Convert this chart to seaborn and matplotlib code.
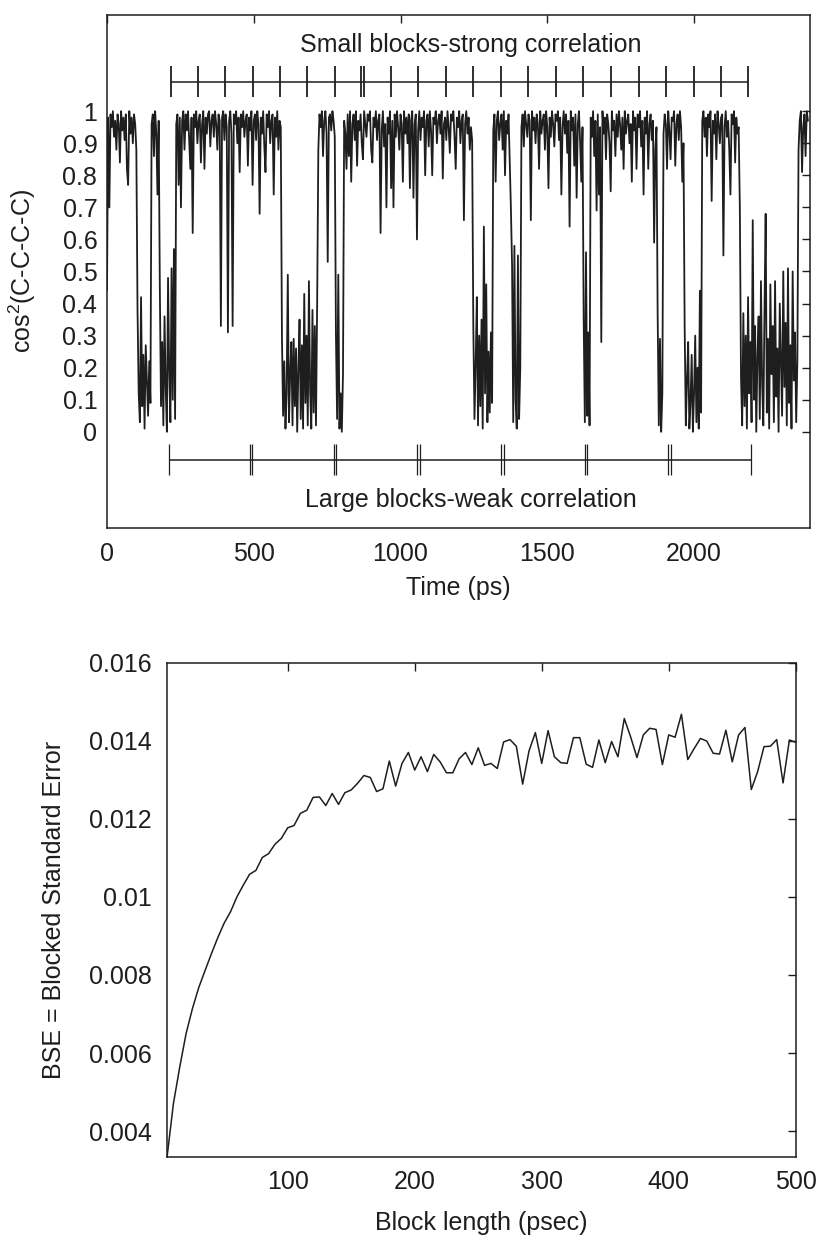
import numpy as np
import pandas as pd
import matplotlib
matplotlib.use("Agg")
import matplotlib.pyplot as plt
import seaborn as sns
from matplotlib.ticker import FuncFormatter

# ── Data: cos^2 dihedral trace, one value every TIME_STEP ps (percent) ─────────
TIME_STEP = 4
COS2_PCT = [
    # 0-100 high
    44, 98, 70, 99, 95, 100, 92, 97, 88, 99, 96, 84, 100, 94, 98, 91, 99, 82, 77, 100, 93, 98, 90, 99, 96, 88,
    # 104-148 low
    38, 12, 3, 42, 8, 24, 1, 27, 16, 5, 22, 9,
    # 152-176 high
    96, 99, 86, 100, 93, 74, 97,
    # 180-232 low
    45, 8, 28, 2, 36, 14, 0, 48, 19, 3, 51, 10, 57, 4,
    # 236-592 high
    96, 99, 77, 98, 70, 97, 100, 88, 99, 94, 100, 91, 82, 98, 62, 99, 95, 100, 90, 97,
    99, 84, 96, 100, 82, 98, 93, 99, 100, 89, 97, 99, 92, 100, 96, 88, 99, 97, 33, 98,
    100, 91, 99, 95, 31, 97, 100, 93, 33, 99, 96, 100, 90, 98, 81, 99, 95, 100, 92, 97,
    99, 83, 98, 94, 100, 77, 97, 99, 91, 100, 96, 68, 98, 93, 100, 89, 81, 99, 95, 100,
    90, 97, 99, 74, 98, 92, 100, 88, 97, 95,
    # 596-716 low
    30, 5, 22, 1, 12, 49, 3, 18, 28, 2, 29, 8, 26, 0, 20, 35, 4, 27, 1, 43, 9, 30, 2, 47, 13, 1, 38, 6, 33, 2, 40,
    # 720-776 high
    88, 99, 95, 100, 86, 97, 100, 93, 53, 98, 99, 94, 100, 97, 92,
    # 780-804 low
    30, 4, 49, 1, 12, 0, 18,
    # 808-1244 high
    97, 93, 82, 99, 86, 100, 78, 96, 99, 91, 100, 83, 97, 94, 99, 90, 85, 100, 96, 92,
    99, 97, 100, 88, 84, 98, 95, 100, 91, 97, 99, 62, 94, 100, 89, 96, 70, 98, 93, 100,
    76, 97, 70, 99, 92, 100, 95, 88, 99, 96, 78, 100, 93, 98, 90, 99, 76, 97, 100, 73,
    96, 99, 60, 94, 100, 91, 98, 95, 100, 80, 97, 99, 89, 100, 94, 80, 98, 96, 100, 90,
    97, 99, 93, 100, 79, 96, 98, 91, 100, 95, 87, 99, 97, 100, 92, 82, 98, 95, 100, 90,
    97, 99, 66, 96, 100, 93, 98, 88, 95, 91,
    # 1248-1312 low
    33, 4, 21, 42, 2, 30, 8, 35, 1, 64, 12, 46, 3, 25, 6, 31, 9,
    # 1316-1376 high
    94, 99, 78, 97, 100, 91, 96, 99, 88, 100, 80, 97, 93, 99, 85, 70,
    # 1380-1408 low
    52, 3, 58, 10, 1, 55, 4, 20,
    # 1412-1620 high
    95, 99, 89, 100, 96, 92, 99, 97, 66, 100, 94, 98, 90, 99, 96, 82, 100, 93, 97, 99,
    88, 100, 95, 76, 98, 92, 100, 96, 89, 99, 97, 100, 91, 98, 74, 95, 100, 93, 99, 87,
    97, 64, 100, 94, 98, 83, 99, 73, 96, 100, 90, 78, 95,
    # 1624-1644 low
    35, 3, 56, 5, 31, 2,
    # 1648-1872 high
    98, 92, 100, 86, 97, 69, 99, 74, 95, 28, 100, 93, 98, 85, 99, 96, 90, 75, 100, 94,
    97, 86, 99, 92, 100, 96, 88, 98, 82, 100, 93, 97, 99, 90, 96, 78, 100, 94, 98, 82,
    99, 95, 100, 89, 97, 74, 98, 93, 100, 82, 96, 99, 91, 97, 59, 88, 95,
    # 1876-1892 low
    37, 2, 29, 0, 12,
    # 1896-1964 high
    93, 99, 96, 82, 100, 94, 85, 98, 97, 100, 83, 96, 99, 91, 100, 95, 78, 90,
    # 1968-2024 low
    33, 2, 16, 28, 1, 9, 24, 0, 12, 30, 3, 20, 1, 44, 6,
    # 2028-2156 high
    97, 100, 92, 98, 86, 99, 95, 100, 72, 97, 93, 99, 85, 100, 96, 90, 98, 99, 55, 95,
    100, 92, 97, 88, 74, 99, 96, 100, 84, 98, 93, 95, 70,
    # 2160-2352 low
    17, 2, 37, 8, 30, 1, 42, 12, 28, 3, 66, 10, 33, 0, 24, 36, 4, 47, 15, 2,
    38, 68, 6, 29, 1, 46, 18, 33, 3, 47, 11, 26, 0, 40, 22, 5, 50, 14, 34, 2,
    51, 9, 27, 1, 50, 16, 31, 3, 22,
    # 2356-2388 high
    88, 97, 100, 81, 95, 99, 86, 100, 97,
]

# block boundaries (ps) drawn above / below the trace
SMALL_BLOCK_TICKS = [217, 309, 402, 497, 590, 683, 777, 865, 874, 968, 1061, 1155,
                     1248, 1342, 1435, 1530, 1622, 1718, 1812, 1905, 1999, 2093, 2185]
LARGE_BLOCK_TICKS = [211, 486, 495, 772, 781, 1056, 1065, 1343, 1352,
                     1627, 1636, 1911, 1920, 2193]

# ── Data: blocked standard error vs block length ─────────────────────────────
BLOCK_LENGTH = np.arange(5, 505, 5)
BSE = [
    0.00333, 0.00470, 0.00564, 0.00650, 0.00714, 0.00768, 0.00812, 0.00855, 0.00896, 0.00933,
    0.00962, 0.01000, 0.01030, 0.01058, 0.01068, 0.01101, 0.01111, 0.01135, 0.01150, 0.01177,
    0.01183, 0.01214, 0.01222, 0.01255, 0.01256, 0.01234, 0.01265, 0.01237, 0.01267, 0.01274,
    0.01291, 0.01311, 0.01306, 0.01270, 0.01277, 0.01348, 0.01284, 0.01342, 0.01370, 0.01325,
    0.01359, 0.01321, 0.01365, 0.01346, 0.01318, 0.01318, 0.01354, 0.01370, 0.01339, 0.01382,
    0.01337, 0.01342, 0.01329, 0.01397, 0.01403, 0.01386, 0.01289, 0.01374, 0.01421, 0.01342,
    0.01426, 0.01359, 0.01344, 0.01342, 0.01408, 0.01408, 0.01340, 0.01332, 0.01402, 0.01344,
    0.01398, 0.01359, 0.01457, 0.01410, 0.01357, 0.01415, 0.01432, 0.01429, 0.01339, 0.01415,
    0.01409, 0.01468, 0.01352, 0.01380, 0.01406, 0.01399, 0.01368, 0.01366, 0.01427, 0.01346,
    0.01415, 0.01434, 0.01275, 0.01321, 0.01385, 0.01386, 0.01403, 0.01292, 0.01402, 0.01396,
]

# ── Style ────────────────────────────────────────────────────────────────────
INK = "#1e1e1e"
sns.set_theme(style="white")
plt.rcParams.update({
    "font.family": ["Liberation Sans", "DejaVu Sans"],
    "font.size": 18,
    "axes.labelsize": 18,
    "xtick.labelsize": 18,
    "ytick.labelsize": 18,
    "axes.edgecolor": INK,
    "axes.linewidth": 1.1,
    "axes.labelcolor": INK,
    "xtick.color": INK,
    "ytick.color": INK,
    "text.color": INK,
})

fmt_g = FuncFormatter(lambda v, _: f"{v:g}")

fig = plt.figure(figsize=(8.18, 12.38), dpi=100)
ax1 = fig.add_axes([0.1308, 0.5735, 0.8594, 0.4144])
ax2 = fig.add_axes([0.2042, 0.0652, 0.7686, 0.3995])

# ── Top: time series ─────────────────────────────────────────────────────────
trace = pd.DataFrame({
    "time": np.arange(len(COS2_PCT)) * TIME_STEP,
    "cos2": np.array(COS2_PCT) / 100.0,
})
sns.lineplot(data=trace, x="time", y="cos2", ax=ax1, color=INK, lw=1.3,
             estimator=None, sort=False)

small_y, large_y, half = 1.092, -0.087, 0.048
ax1.hlines(small_y, SMALL_BLOCK_TICKS[0], SMALL_BLOCK_TICKS[-1], color=INK, lw=1.1)
ax1.vlines(SMALL_BLOCK_TICKS, small_y - half, small_y + half, color=INK, lw=1.3)
ax1.hlines(large_y, LARGE_BLOCK_TICKS[0], LARGE_BLOCK_TICKS[-1], color=INK, lw=1.1)
ax1.vlines(LARGE_BLOCK_TICKS, large_y - half, large_y + half, color=INK, lw=0.9)

ax1.text(1238, 1.185, "Small blocks-strong correlation", ha="center", va="baseline")
ax1.text(1240, -0.233, "Large blocks-weak correlation", ha="center", va="baseline")

ax1.set_xlim(0, 2395)
ax1.set_ylim(-0.3, 1.3)
ax1.set_xticks([0, 500, 1000, 1500, 2000])
ax1.set_yticks(np.round(np.arange(0, 1.01, 0.1), 1))
ax1.yaxis.set_major_formatter(fmt_g)
ax1.tick_params(axis="both", direction="in", top=True, right=True,
                length=5.5, width=1.0)
ax1.tick_params(axis="x", pad=10)
ax1.tick_params(axis="y", pad=7)
ax1.set_xlabel("Time (ps)", labelpad=7)
ax1.set_ylabel(r"cos$\mathregular{^2}$(C-C-C-C)")
ax1.yaxis.set_label_coords(-0.098, 0.5)

# ── Bottom: blocked standard error ───────────────────────────────────────────
bse = pd.DataFrame({"block": BLOCK_LENGTH, "bse": BSE})
sns.lineplot(data=bse, x="block", y="bse", ax=ax2, color=INK, lw=1.1)

ax2.set_xlim(5, 500)
ax2.set_ylim(0.00333, 0.016)
ax2.set_xticks([100, 200, 300, 400, 500])
ax2.set_yticks(np.arange(0.004, 0.0161, 0.002))
ax2.yaxis.set_major_formatter(fmt_g)
ax2.tick_params(axis="both", direction="in", top=True, right=True,
                length=5.5, width=1.0)
ax2.tick_params(axis="x", pad=9.5)
ax2.tick_params(axis="y", pad=11)
ax2.set_xlabel("Block length (psec)", labelpad=12)
ax2.set_ylabel("BSE = Blocked Standard Error")
ax2.yaxis.set_label_coords(-0.16, 0.5)

fig.savefig("out.png", dpi=100, facecolor="white")
